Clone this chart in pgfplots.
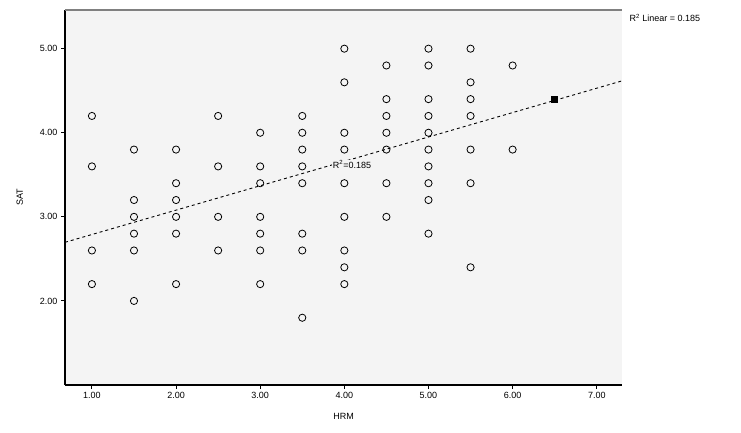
\documentclass[border=0pt]{standalone}
\usepackage{pgfplots}
\pgfplotsset{compat=1.18}
\usepackage{fontspec}
\setmainfont{Liberation Sans}

\begin{document}
\begin{tikzpicture}[x=1pt,y=1pt]
\useasboundingbox (0,0) rectangle (741,432);
\begin{axis}[
  at={(65pt,47pt)}, anchor=south west,
  scale only axis, width=557pt, height=375pt,
  xmin=0.68, xmax=7.3, ymin=1, ymax=5.46,
  axis lines*=left,
  axis line style={-, line width=1.3pt},
  axis background/.style={fill=gray!9},
  tick align=outside, major tick length=4pt,
  tick style={black, line width=0.9pt},
  xtick={1,2,3,4,5,6,7}, ytick={2,3,4,5},
  x tick label style={/pgf/number format/fixed, /pgf/number format/fixed zerofill,
    /pgf/number format/precision=2, /pgf/number format/assume math mode=true},
  y tick label style={/pgf/number format/fixed, /pgf/number format/fixed zerofill,
    /pgf/number format/precision=2, /pgf/number format/assume math mode=true},
  tick label style={font=\small},
  xlabel={HRM}, ylabel={SAT},
  label style={font=\small},
  xlabel style={yshift=-8pt},
  ylabel style={yshift=10pt},
  clip=false,
]
% observed cases
\addplot[only marks, mark=o, mark size=3.6pt, mark options={black, line width=0.8pt}]
  table {
x y
1.0 4.2
1.0 3.6
1.0 2.6
1.0 2.2
1.5 3.8
1.5 3.2
1.5 3.0
1.5 2.8
1.5 2.6
1.5 2.0
2.0 3.8
2.0 3.4
2.0 3.2
2.0 3.0
2.0 2.8
2.0 2.2
2.5 4.2
2.5 3.6
2.5 3.0
2.5 2.6
3.0 4.0
3.0 3.6
3.0 3.4
3.0 3.0
3.0 2.8
3.0 2.6
3.0 2.2
3.5 4.2
3.5 4.0
3.5 3.8
3.5 3.6
3.5 3.4
3.5 2.8
3.5 2.6
3.5 1.8
4.0 5.0
4.0 4.6
4.0 4.0
4.0 3.8
4.0 3.4
4.0 3.0
4.0 2.6
4.0 2.4
4.0 2.2
4.5 4.8
4.5 4.4
4.5 4.2
4.5 4.0
4.5 3.8
4.5 3.4
4.5 3.0
5.0 5.0
5.0 4.8
5.0 4.4
5.0 4.2
5.0 4.0
5.0 3.8
5.0 3.6
5.0 3.4
5.0 3.2
5.0 2.8
5.5 5.0
5.5 4.6
5.5 4.4
5.5 4.2
5.5 3.8
5.5 3.4
5.5 2.4
6.0 4.8
6.0 3.8
};
% case lying on the fit line
\addplot[only marks, mark=square*, mark size=3pt, mark options={black}]
  coordinates {(6.5,4.4)};
% linear fit
\addplot[black, dashed, line width=0.9pt] coordinates {(0.68,2.697) (7.3,4.617)};
\node[font=\small, fill=gray!9, inner sep=1pt, anchor=west] at (axis cs:3.85,3.62) {R\textsuperscript{2}=0.185};
\draw[gray, line width=1.2pt] (rel axis cs:0,1) -- (rel axis cs:1,1);
\end{axis}
\node[anchor=west, font=\small] at (626,414) {R\textsuperscript{2} Linear = 0.185};
\end{tikzpicture}
\end{document}
